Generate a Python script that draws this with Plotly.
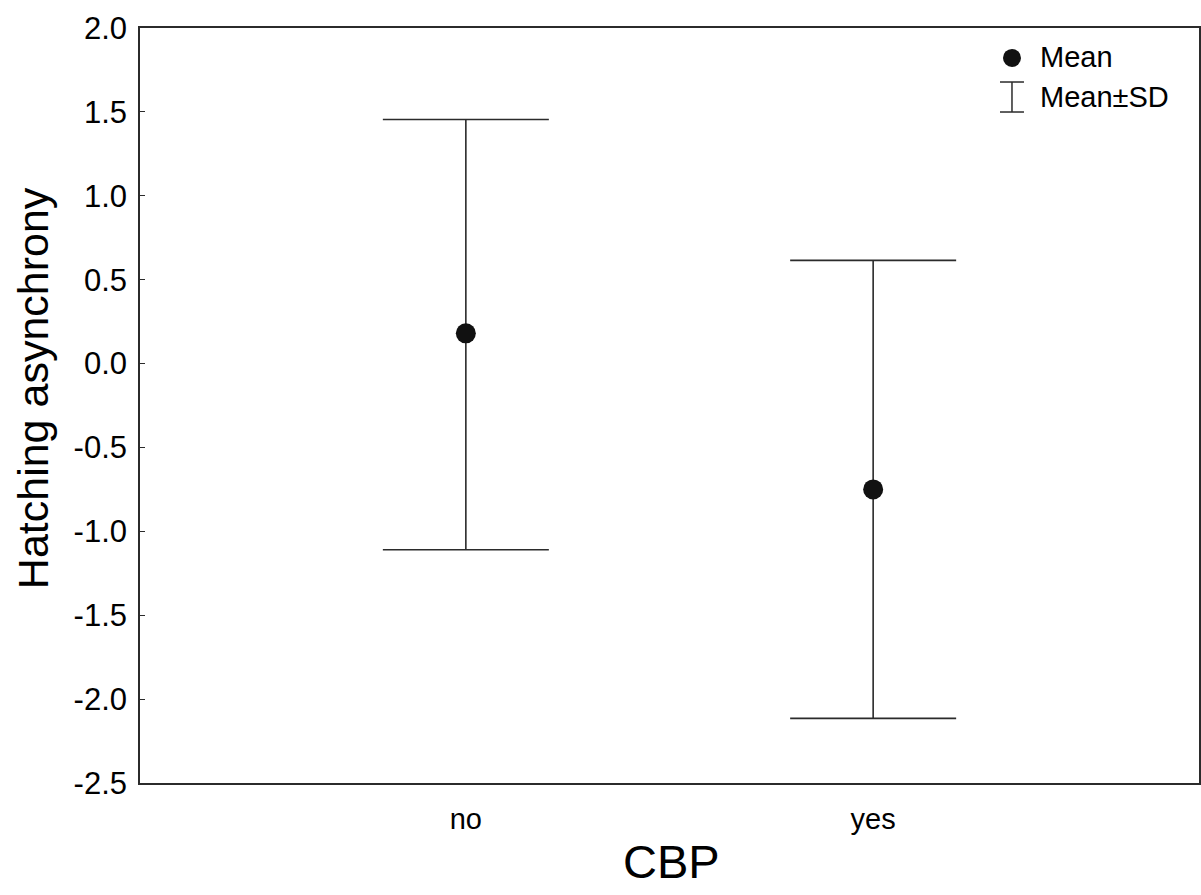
import plotly.graph_objects as go

# Data
categories = ["no", "yes"]
cat_pos = [0, 1]
means = [0.18, -0.75]
upper = [1.455, 0.615]
lower = [-1.11, -2.115]
y_ticks = [-2.5, -2.0, -1.5, -1.0, -0.5, 0.0, 0.5, 1.0, 1.5, 2.0]
y_ticktext = ["-2.5", "-2.0", "-1.5", "-1.0", "-0.5", "0.0", "0.5", "1.0", "1.5", "2.0"]

err_plus = [u - m for u, m in zip(upper, means)]
err_minus = [m - l for m, l in zip(means, lower)]

FONT = "Arial, Liberation Sans, sans-serif"
LINE = "#2b2b2b"

fig = go.Figure()
fig.add_trace(go.Scatter(
    x=cat_pos, y=means, mode="markers",
    marker=dict(color="#111111", size=20),
    error_y=dict(type="data", symmetric=False, array=err_plus, arrayminus=err_minus,
                 color=LINE, thickness=1.6, width=83),
    showlegend=False, name="Mean",
))

# Manual legend (paper coords, pixel-sized symbols)
lx = 0.8234
fig.add_shape(type="circle", xref="paper", yref="paper", xsizemode="pixel", ysizemode="pixel",
              xanchor=lx, yanchor=0.9603, x0=-9, x1=9, y0=-9, y1=9,
              fillcolor="#111111", line=dict(color="#111111", width=0))
for (x0, x1, y0, y1) in [(-12, 12, 15, 15), (-12, 12, -15, -15), (0, 0, -15, 15)]:
    fig.add_shape(type="line", xref="paper", yref="paper", xsizemode="pixel", ysizemode="pixel",
                  xanchor=lx, yanchor=0.9086, x0=x0, x1=x1, y0=y0, y1=y1,
                  line=dict(color=LINE, width=1.5))
fig.add_annotation(x=0.848, y=0.9616, xref="paper", yref="paper", text="Mean", showarrow=False,
                   xanchor="left", yanchor="middle", font=dict(family=FONT, size=29, color="#000"))
fig.add_annotation(x=0.848, y=0.9086, xref="paper", yref="paper", text="Mean±SD", showarrow=False,
                   xanchor="left", yanchor="middle", font=dict(family=FONT, size=29, color="#000"))

# Axis titles as annotations for precise placement
fig.add_annotation(x=0.502, y=-0.1046, xref="paper", yref="paper", text="CBP", showarrow=False,
                   xanchor="center", yanchor="middle", font=dict(family=FONT, size=47, color="#000"))
fig.add_annotation(x=-0.1010, y=0.523, xref="paper", yref="paper", text="Hatching asynchrony",
                   showarrow=False, textangle=-90, xanchor="center", yanchor="middle",
                   font=dict(family=FONT, size=43, color="#000"))

fig.update_layout(
    width=1201, height=895,
    margin=dict(l=140, r=2, t=28, b=112, autoexpand=False),
    paper_bgcolor="white", plot_bgcolor="white",
    font=dict(family=FONT, color="#000"),
    showlegend=False,
)
fig.update_xaxes(
    range=[-0.8, 1.8], tickvals=cat_pos, ticktext=categories, automargin=False,
    showgrid=False, zeroline=False, showline=True, linecolor=LINE, linewidth=1.6, mirror=True,
    ticks="", tickfont=dict(size=29), ticklabelstandoff=9,
)
fig.update_yaxes(
    range=[-2.5, 2.0], tickvals=y_ticks, ticktext=y_ticktext, automargin=False,
    showgrid=False, zeroline=False, showline=True, linecolor=LINE, linewidth=1.6, mirror=True,
    ticks="inside", ticklen=5, tickcolor=LINE, tickwidth=1.2, tickfont=dict(size=31),
    ticklabelstandoff=5,
)

fig.write_html("out.html", config={"displayModeBar": False},
               post_script="document.body.style.margin='0';document.body.style.overflow='hidden';")
